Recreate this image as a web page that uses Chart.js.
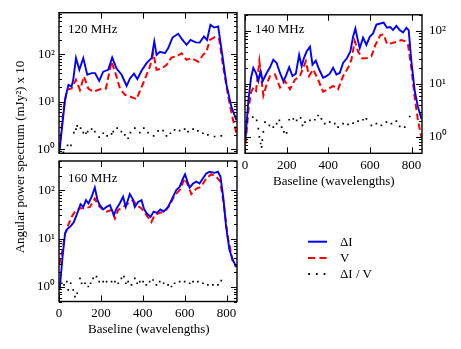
<!DOCTYPE html>
<html><head><meta charset="utf-8">
<script src="https://cdn.jsdelivr.net/npm/chart.js@4.4.1/dist/chart.umd.min.js"></script>
<style>
html,body{margin:0;padding:0;background:#fff;}
#wrap{position:relative;width:461px;height:349px;overflow:hidden;font-family:"Liberation Serif",serif;background:#fff;}
#wrap canvas{position:absolute;left:0;top:0;}
.t{position:absolute;white-space:nowrap;font-size:13px;line-height:13px;color:#000;font-family:"Liberation Serif",serif;}
#ytitle{left:-111px;top:151px;width:260px;text-align:center;transform:rotate(-90deg);transform-origin:130px 6px;}
</style></head><body>
<div id="wrap">
<canvas id="c1" width="461" height="349"></canvas>
<canvas id="c2" width="461" height="349"></canvas>
<canvas id="c3" width="461" height="349"></canvas>
<div class="t" style="left:68px;top:22px;">120 MHz</div>
<div class="t" style="left:255px;top:22px;">140 MHz</div>
<div class="t" style="left:68px;top:171px;">160 MHz</div>
<div class="t" style="left:273px;top:174px;width:121px;text-align:center;">Baseline (wavelengths)</div>
<div class="t" style="left:88px;top:322px;width:121px;text-align:center;">Baseline (wavelengths)</div>
<div class="t" id="ytitle">Angular power spectrum (mJy²) x 10</div>
<svg style="position:absolute;left:300px;top:230px;" width="40" height="60">
  <line x1="8" y1="11.7" x2="27" y2="11.7" stroke="#0000ff" stroke-width="2"/>
  <line x1="8" y1="28" x2="27" y2="28" stroke="#ff0000" stroke-width="2" stroke-dasharray="7,4.5"/>
  <line x1="8.2" y1="44" x2="27" y2="44" stroke="#000" stroke-width="1.8" stroke-dasharray="1.8,5.9"/>
</svg>
<div class="t" style="left:340px;top:235px;">ΔI</div>
<div class="t" style="left:340px;top:251px;">V</div>
<div class="t" style="left:340px;top:267px;">ΔI / V</div>
</div>
<script>
// ---------- data ----------
const xTicks = [0, 200, 400, 600, 800];
const yDecades = [0.1, 1, 10, 100, 1000];

// 120 MHz
const f120_Ix = [2,29,45,60,68,81,97,116,135,156,172,192,211,235,254,275,299,323,339,358,374,394,418,442,455,466,482,506,521,542,569,590,609,628,653,672,692,707,723,741,760,781,800,823,847];
const f120_I  = [0.9,11,22.6,21,29,83,47,83,37,40,40,27.5,43,47,85,50,37,21.6,31,39,30,45,65,83,185,97,113,105,133,225,270,200,158,200,178,176,236,200,415,365,385,89,22.6,7.9,4.1];
const f120_Vx = [2,21,37,60,81,100,119,140,164,196,224,251,272,291,315,339,370,402,434,450,466,490,514,537,561,585,609,633,665,688,704,720,744,765,784,808,831,847];
const f120_V  = [1.0,6.7,17.8,19,29,17.8,34,19,16.3,18.3,19,70,37,19,14,12.9,11.3,24.5,55,105,47,50,60,85,90,105,76,83,70,97,113,200,230,208,55,12.9,4.1,2.2];
const f120_Rx = [21,41,57,71,81,87,103,116,129,137,156,171,192,211,230,251,259,278,298,314,330,341,362,386,405,425,452,473,497,513,532,552,576,600,616,640,663,687,711,743,775];
const f120_R  = [0.86,1.2,1.2,2.24,2.64,3.1,2.77,2.24,2.17,2.35,2.64,2.35,1.79,2.17,1.91,2.1,2.35,2.77,2.35,2.0,1.7,2.24,2.77,2.24,2.77,2.24,1.91,2.43,2.47,1.91,2.17,2.55,2.47,2.64,2.35,2.64,2.43,2.17,2.0,1.85,1.91];

// 140 MHz
const f140_Ix = [3,16,29,40,53,64,75,85,104,120,136,152,168,184,196,212,228,244,260,272,283,296,312,324,340,356,375,391,407,423,439,455,471,490,506,519,530,540,551,567,583,599,615,631,650,666,682,698,711,727,743,759,775,786,799,815,831,847];
const f140_I  = [1.0,4.8,13,20,16,11.3,17.3,11.3,16,20.5,28.5,24.7,16,11.3,14,20.5,14,15.5,35,21.5,30.6,40.6,50,23,27.4,18.6,13,14,15.5,20,15,16,24.7,30.6,40.6,77,110,72,47,74,54,77,89,131,137,142,114,118,103,124,103,93,114,103,26.6,7.4,3.6,2.2];
const f140_Vx = [3,16,29,40,53,69,88,104,120,144,168,192,216,240,264,292,308,327,347,375,399,423,447,471,495,511,527,543,564,586,607,626,650,666,682,703,727,751,767,783,799,815,831,847];
const f140_V  = [0.75,3.1,6.9,8.5,7.4,26.6,6,9.8,14,15,8.5,11.3,7.9,12,14,26.6,14,18.6,13,7.1,7.9,9.1,7.9,14,20,28.5,64,40.6,30,30.6,33,54,83,85,56,58,62,67,64,54,20,5.5,2,1.0];
const f140_Rx = [37,56,64,69,75,80,83,88,96,117,136,152,165,176,187,200,212,232,248,267,276,288,312,335,351,367,383,407,431,447,471,495,519,543,567,583,607,631,655,679,703,727,743,767,791];
const f140_R  = [2.35,2.04,1.43,1.0,0.75,0.65,0.87,1.24,1.9,1.65,1.53,1.77,2.04,1.53,1.24,1.19,2.1,2.19,2.04,2.28,1.65,1.9,2.04,2.1,2.53,2.19,1.77,1.9,1.77,1.53,1.77,1.72,1.82,1.98,2.1,2.19,1.65,1.77,1.65,1.9,1.77,1.98,1.58,1.53,2.42];

// 160 MHz
const f160_Ix = [3,17,29,41,56,71,87,103,116,129,141,156,171,184,195,211,227,243,262,275,290,306,319,338,351,362,378,394,405,417,437,452,468,484,500,521,537,560,576,592,602,613,624,640,656,671,687,703,719,743,759,771,786,798,814,830,846];
const f160_I  = [0.87,4.2,12.7,16,18,22,33,51,45,62,53,73,113,62,49,40,45,49,30.6,42,53,73,45,83,67,45,57,62,42,34,28,36,34,40,36,45,62,100,117,174,213,150,113,137,150,137,174,220,240,228,240,190,62,17.5,5.8,3.6,2.6];
const f160_Vx = [1,17,29,44,60,76,100,124,148,171,187,203,227,251,267,283,306,330,354,370,394,417,441,457,481,505,529,552,576,600,616,632,656,679,703,727,751,770,786,806,830,846];
const f160_V  = [2.8,5.8,12.7,19,28,36,42,42,45,67,49,42,36,39,26,39,45,53,62,49,42,30.6,22,30.6,34,36,49,78,100,174,127,83,108,117,174,213,190,150,53,10.9,3.3,2.6];
const f160_Rx = [13,24,37,44,56,68,76,87,100,108,124,140,151,163,179,192,211,227,251,267,283,298,310,319,330,346,362,373,386,402,417,433,449,465,481,500,521,537,552,576,600,624,640,663,687,711,735,759,775];
const f160_R  = [1.19,1.1,1.29,0.87,1.19,0.87,0.63,0.74,1.5,1.19,1.19,1.02,1.19,1.5,1.63,1.29,1.29,1.29,1.29,1.29,1.19,1.5,1.63,1.19,1.29,1.1,1.5,1.19,1.29,1.29,1.1,1.29,1.39,1.1,1.29,1.19,1.1,1.02,1.19,1.29,1.29,1.19,1.29,1.29,1.19,1.1,1.1,1.1,1.35];

// ---------- helpers ----------
const SUP = {'-1':'⁻¹','0':'⁰','1':'¹','2':'²','3':'³'};
const FONT = {family:'Liberation Serif', size:13};
function pts(xs, ys){ return xs.map((x,i)=>({x:x, y:ys[i]})); }

const frameTicks = {
  id:'frameTicks',
  afterDatasetsDraw(chart){
    const {ctx, chartArea:a, scales} = chart;
    const x = scales.x, y = scales.y;
    ctx.save();
    ctx.strokeStyle = '#000';
    ctx.lineWidth = 1;
    const maj = 6, mnr = 3;
    ctx.beginPath();
    for (const v of xTicks){
      const px = Math.round(x.getPixelForValue(v)) + 0.5;
      ctx.moveTo(px, a.bottom); ctx.lineTo(px, a.bottom - maj);
      ctx.moveTo(px, a.top); ctx.lineTo(px, a.top + maj);
    }
    for (let d = -1; d <= 3; d++){
      for (let m = 1; m <= 9; m++){
        const v = m * Math.pow(10, d);
        if (v < y.min || v > y.max) continue;
        const py = Math.round(y.getPixelForValue(v)) + 0.5;
        const L = m === 1 ? maj : mnr;
        ctx.moveTo(a.left, py); ctx.lineTo(a.left + L, py);
        ctx.moveTo(a.right, py); ctx.lineTo(a.right - L, py);
      }
    }
    ctx.stroke();
    ctx.lineWidth = 1.4;
    ctx.strokeRect(a.left, a.top, a.right - a.left, a.bottom - a.top);
    ctx.restore();
  }
};

function makeChart(id, c){
  return new Chart(document.getElementById(id), {
    type:'line',
    data:{datasets:[
      {label:'ΔI', data:pts(c.ix, c.iy), borderColor:'#0000ff', borderWidth:1.9, pointRadius:0, tension:0, fill:false},
      {label:'V', data:pts(c.vx, c.vy), borderColor:'#ff0000', borderWidth:2, borderDash:[6.5,3.5], pointRadius:0, tension:0, fill:false},
      {label:'ΔI / V', data:pts(c.rx, c.ry), showLine:false, pointRadius:1.2, pointStyle:'rect', pointBackgroundColor:'#000', pointBorderWidth:0, borderColor:'#000'}
    ]},
    options:{
      responsive:false, animation:false, devicePixelRatio:1,
      layout:{padding:c.pad},
      plugins:{legend:{display:false}, tooltip:{enabled:false}},
      scales:{
        x:{type:'linear', min:0, max:850, position:'bottom',
           grid:{display:false, drawTicks:false}, border:{display:false},
           afterBuildTicks:s=>{ s.ticks = xTicks.map(v=>({value:v})); },
           afterFit:s=>{ s.height = c.xh; },
           ticks:{display:c.xlabels, color:'#000', font:FONT, padding:4, maxRotation:0, autoSkip:false, callback:v=>String(v)}},
        y:{type:'logarithmic', min:c.ymin, max:c.ymax, position:c.ypos,
           grid:{display:false, drawTicks:false}, border:{display:false},
           afterBuildTicks:s=>{ s.ticks = yDecades.filter(v=>v>=c.ymin && v<=c.ymax).map(v=>({value:v})); },
           afterFit:s=>{ s.width = c.yw; },
           ticks:{color:'#000', font:FONT, padding:c.ypad, autoSkip:false,
                  callback:v=>'10' + SUP[String(Math.round(Math.log10(v)))]}}
      }
    },
    plugins:[frameTicks]
  });
}

makeChart('c1', {ix:f120_Ix, iy:f120_I, vx:f120_Vx, vy:f120_V, rx:f120_Rx, ry:f120_R,
  ymin:0.82, ymax:750, ypos:'left', yw:45, ypad:4, xh:0, xlabels:false,
  pad:{left:14, right:224, top:12.7, bottom:195.7}});
makeChart('c2', {ix:f140_Ix, iy:f140_I, vx:f140_Vx, vy:f140_V, rx:f140_Rx, ry:f140_R,
  ymin:0.49, ymax:200, ypos:'right', yw:39, ypad:7, xh:30, xlabels:true,
  pad:{left:245, right:0, top:12.7, bottom:165.7}});
makeChart('c3', {ix:f160_Ix, iy:f160_I, vx:f160_Vx, vy:f160_V, rx:f160_Rx, ry:f160_R,
  ymin:0.5, ymax:400, ypos:'left', yw:45, ypad:4, xh:30, xlabels:true,
  pad:{left:14, right:224, top:161, bottom:17.5}});
</script>
</body></html>
